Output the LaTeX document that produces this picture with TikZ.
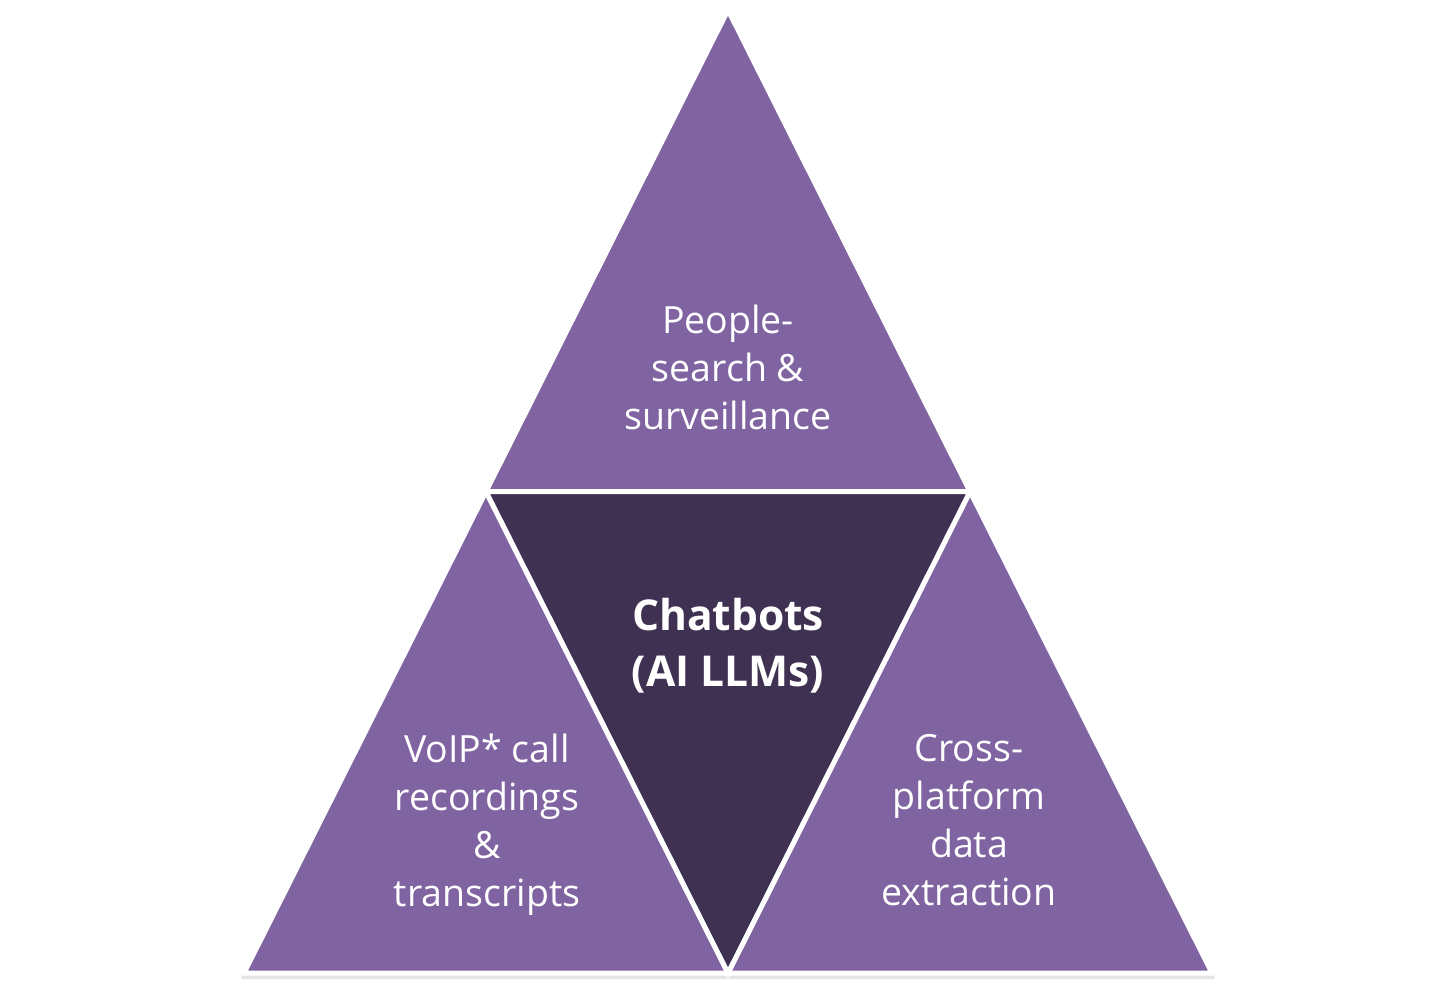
\documentclass[tikz,border=0pt]{standalone}
\usepackage{fontspec}
\setmainfont{Open Sans}
\usetikzlibrary{calc}
\definecolor{lav}{HTML}{8064A2}
\definecolor{lavdark}{HTML}{3F3151}
\tikzset{
  tri/.style={draw=white, line width=5pt, line join=miter, fill=lav},
  tridark/.style={tri, fill=lavdark},
  lbl/.style={text=white, align=center, font=\fontsize{37.5}{48}\selectfont, inner sep=0pt},
  lblbold/.style={text=white, align=center, font=\fontsize{42.5}{56}\selectfont\bfseries, inner sep=0pt}
}
\begin{document}
\begin{tikzpicture}[x=1pt,y=-1pt]
\useasboundingbox (0,0) rectangle (1456,985);
\coordinate (A) at (728,10);
\coordinate (L) at (244,973);
\coordinate (R) at (1212,973);
\coordinate (ML) at ($ (A)!0.5!(L) $);
\coordinate (MR) at ($ (A)!0.5!(R) $);
\coordinate (MB) at ($ (L)!0.5!(R) $);
% soft shadow
\fill[black!10] (240,973) -- (1216,973) -- (1214,979) -- (242,979) -- cycle;
% triangles
\path[tri] (A) -- (MR) -- (ML) -- cycle;
\path[tri] (ML) -- (MB) -- (L) -- cycle;
\path[tri] (MR) -- (R) -- (MB) -- cycle;
\path[tridark] (ML) -- (MR) -- (MB) -- cycle;
% labels
\node[lbl] (top) at (728,367) {People-\\search \&\\surveillance};
\node[lbl] (left) at (487,825) {VoIP* call\\recordings\\\&\\transcripts};
\node[lbl] (right) at (969,820) {Cross-\\platform\\data\\extraction};
\node[lblbold] (mid) at (728,646) {Chatbots\\(AI LLMs)};
\end{tikzpicture}
\end{document}
